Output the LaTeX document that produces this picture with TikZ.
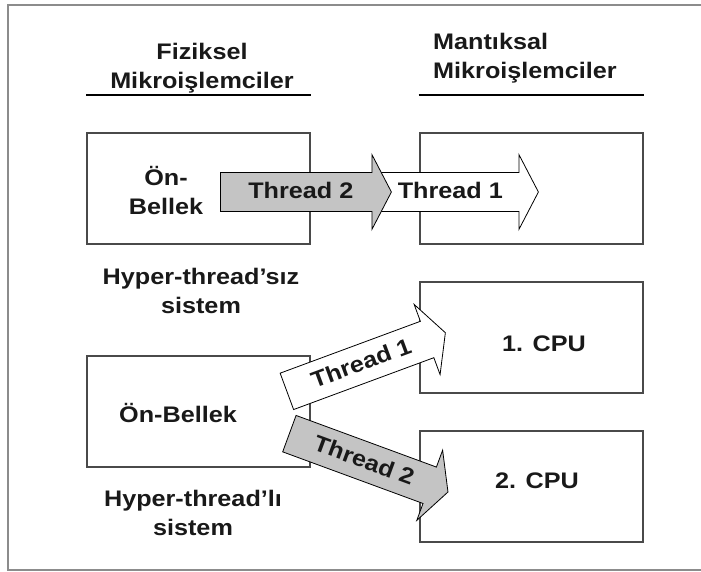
\documentclass[tikz,border=0pt]{standalone}
\usepackage{fontspec}
\setmainfont{Liberation Sans}[FakeStretch=1.12]
\usetikzlibrary{shapes.arrows}
\definecolor{boxgray}{HTML}{4A4A4A}
\definecolor{framegray}{HTML}{8C8C8C}
\definecolor{threadgray}{HTML}{C4C4C4}
\tikzset{
  cpubox/.style={draw=boxgray, line width=2pt, minimum width=223pt, minimum height=111pt, inner sep=0pt},
  lbl/.style={font=\fontsize{22.5}{29}\selectfont\bfseries, align=center, text=black!90, inner sep=0pt},
  threadarrow/.style={single arrow, draw=black, line width=0.8pt, fill=white,
    minimum width=74pt, single arrow head extend=18pt, single arrow tip angle=125,
    single arrow head indent=0pt, lbl, text height=17pt, text depth=3pt,
    inner xsep=1pt, inner ysep=9pt, anchor=tail},
}

\begin{document}
\begin{tikzpicture}[x=1pt, y=-1pt]
      \useasboundingbox (0,0) rectangle (701,572);
      \draw [framegray, line width=2pt] (702,5) -- (8,5) -- (8,570) -- (702,570);

      % boxes
      \node [cpubox] (fizA) at (198.5,188.5) {};
      \node [cpubox] (mantA) at (531,188.5) {};
      \node [cpubox] (fizB) at (198.5,411.5) {};
      \node [cpubox] (cpu1) at (531,337.5) {};
      \node [cpubox] (cpu2) at (531,486.5) {};

      % headers
      \node [lbl] (hdfiz) at (202,68.5) {Fiziksel\\Mikroişlemciler};
      \node [lbl, align=left, anchor=west] (hdmant) at (433,58.5) {Mantıksal\\Mikroişlemciler};
      \draw [line width=1.3pt] ([yshift=37pt]fizA.north west) -- ([yshift=37pt]fizA.north east);
      \draw [line width=1.3pt] ([yshift=37pt]mantA.north west) -- ([yshift=37pt]mantA.north east);

      \node [lbl] (onA) at (166,191) {Ön-\\Bellek};
      \node [lbl] (hsiz) at (201,290.5) {Hyper-thread’sız\\sistem};
      \node [lbl] (onB) at (178,413) {Ön-Bellek};
      \node [lbl] (hli) at (193,513) {Hyper-thread’lı\\sistem};
      \node [lbl] (cpuA) at (544,344) {1. CPU};
      \node [lbl] (cpuB) at (537,481) {2. CPU};

      % threads
      \node [threadarrow, minimum height=166pt] (thrA1) at (372,192) {Thread 1};
      \node [threadarrow, fill=threadgray, minimum height=171pt] (thrA2) at (220,192) {Thread 2};
      \node [threadarrow, minimum height=169pt, rotate=20.3] (thrB1) at (286.5,391.5) {Thread 1};
      \node [threadarrow, fill=threadgray, minimum height=169pt, rotate=-20.2] (thrB2) at (289,433.5) {Thread 2};
    \end{tikzpicture}
\end{document}
